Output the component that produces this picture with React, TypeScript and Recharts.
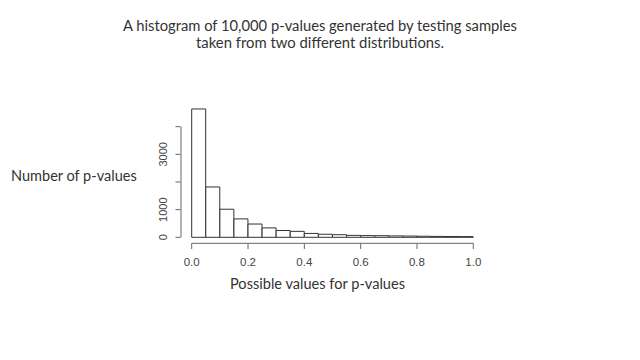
import React from "react";
import { ComposedChart, Bar, XAxis, YAxis, ReferenceLine } from "recharts";

// Histogram bins (width 0.05) – bin centers and counts
const binCenters = [
  0.025, 0.075, 0.125, 0.175, 0.225, 0.275, 0.325, 0.375, 0.425, 0.475,
  0.525, 0.575, 0.625, 0.675, 0.725, 0.775, 0.825, 0.875, 0.925, 0.975,
];
const counts = [
  4640, 1820, 1015, 665, 480, 340, 245, 215, 140, 110,
  94, 70, 60, 58, 50, 45, 38, 32, 28, 25,
];
const xTicks = [0, 0.2, 0.4, 0.6, 0.8, 1.0];
const yTicks = [0, 1000, 2000, 3000, 4000];
const yLabelled = [0, 1000, 3000];

const titleLines = [
  "A histogram of 10,000 p-values generated by testing samples",
  "taken from two different distributions.",
];
const yTitle = "Number of p-values";
const xTitle = "Possible values for p-values";

const data = binCenters.map((x, i) => ({ x, count: counts[i] }));

const AXIS = "#666";
const TEXT = "#444";
const FONT = "Lato, 'Open Sans', sans-serif";
const TICKFONT = "'Liberation Sans', Arial, sans-serif";

const MARGIN = { top: 107.3, right: 166.7, bottom: 86.7, left: 131.7 };
const Y_AXIS_W = 60;
const PLOT_LEFT = MARGIN.left + Y_AXIS_W; // 191.7
const Y_LINE_X = PLOT_LEFT - 11.2; // detached R-style axis

const YTick = (props: any) => {
  const { y, payload } = props;
  const show = yLabelled.includes(payload.value);
  const tx = Y_LINE_X - 17.5;
  return (
    <g>
      <line x1={Y_LINE_X} x2={Y_LINE_X - 5} y1={y} y2={y} stroke={AXIS} strokeWidth={1} />
      {show && (
        <text
          x={tx}
          y={y}
          transform={`rotate(-90, ${tx}, ${y})`}
          textAnchor="middle"
          dominantBaseline="central"
          fontFamily={TICKFONT}
          fontSize={11}
          fill={TEXT}
        >
          {payload.value}
        </text>
      )}
    </g>
  );
};

export default function App() {
  return (
    <div style={{ position: "absolute", left: 0, top: 0, width: 640, height: 360, background: "#fff" }}>
      <ComposedChart
        width={640}
        height={360}
        data={data}
        margin={MARGIN}
        barCategoryGap={0}
        barGap={0}
      >
        <XAxis
          dataKey="x"
          type="number"
          domain={[0, 1]}
          ticks={xTicks}
          tickFormatter={(v: number) => v.toFixed(1)}
          height={30}
          axisLine={{ stroke: AXIS }}
          tickLine={{ stroke: AXIS }}
          tickSize={5.7}
          tickMargin={9}
          tick={{ fontSize: 11.5, fill: TEXT, fontFamily: TICKFONT }}
          interval={0}
        />
        <YAxis
          type="number"
          domain={[-217, 4700]}
          ticks={yTicks}
          width={Y_AXIS_W}
          axisLine={false}
          tickLine={false}
          tickSize={0}
          tickMargin={0}
          tick={<YTick />}
          interval={0}
        />
        <ReferenceLine
          segment={[
            { x: -0.038, y: 0 },
            { x: -0.038, y: 4000 },
          ]}
          stroke={AXIS}
          strokeWidth={1}
          ifOverflow="visible"
        />
        <Bar dataKey="count" fill="#fff" stroke="#333" strokeWidth={1} isAnimationActive={false} />
      </ComposedChart>
      <svg
        width={640}
        height={360}
        style={{ position: "absolute", left: 0, top: 0, pointerEvents: "none" }}
      >
        <text x={320} y={30.7} textAnchor="middle" fontFamily={FONT} fontSize={15.5} fill="#333" textLength={394} lengthAdjust="spacingAndGlyphs">
          {titleLines[0]}
        </text>
        <text x={320} y={48} textAnchor="middle" fontFamily={FONT} fontSize={15.5} fill="#333" textLength={248} lengthAdjust="spacingAndGlyphs">
          {titleLines[1]}
        </text>
        <text x={11} y={181} fontFamily={FONT} fontSize={15.5} fill="#333" textLength={125.7} lengthAdjust="spacingAndGlyphs">
          {yTitle}
        </text>
        <text x={230} y={289} fontFamily={FONT} fontSize={15.5} fill="#333" textLength={175} lengthAdjust="spacingAndGlyphs">
          {xTitle}
        </text>
      </svg>
    </div>
  );
}
